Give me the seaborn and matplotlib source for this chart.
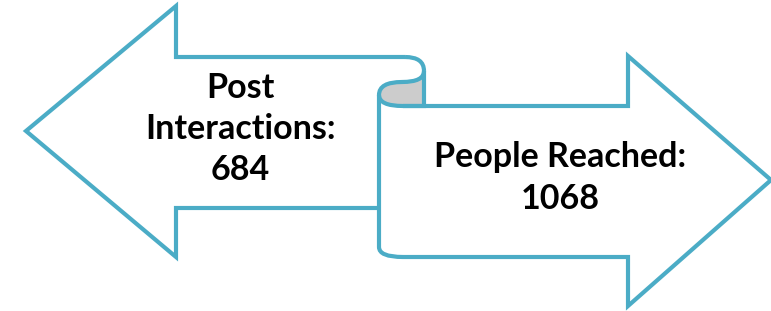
import numpy as np
import seaborn as sns
import matplotlib.pyplot as plt
from matplotlib.path import Path
from matplotlib.patches import PathPatch

# data
metrics = ["Post\nInteractions", "People Reached"]
values = [684, 1068]

edge_col = "#4BACC6"
curl_col = "#CCCCCC"
lw = 3

sns.set_theme(style="white")
plt.rcParams["font.family"] = ["Lato", "DejaVu Sans"]

fig = plt.figure(figsize=(7.71, 3.11), dpi=100)
ax = fig.add_axes([0, 0, 1, 1])
ax.set_xlim(0, 771)
ax.set_ylim(311, 0)
ax.axis("off")

M, L, C = Path.MOVETO, Path.LINETO, Path.CURVE3

# left arrow (drawn first, the scroll covers its shaft end)
left = Path([(405, 57), (176, 57), (176, 6), (26, 131), (176, 257), (176, 208), (379, 208)],
            [M, L, L, L, L, L, L])
ax.add_patch(PathPatch(left, fc="white", ec=edge_col, lw=lw, joinstyle="miter", zorder=1))

# right arrow body incl. scroll part
right_fill = Path([(403, 106), (628, 106), (628, 56), (771, 180), (628, 306), (628, 257),
                   (403, 257), (379, 257), (379, 247), (379, 95), (379, 106), (403, 106)],
                  [M, L, L, L, L, L, L, C, C, L, C, C])
ax.add_patch(PathPatch(right_fill, fc="white", ec="none", zorder=2))
right_edge = Path([(403, 106), (628, 106), (628, 56), (771, 180), (628, 306), (628, 257),
                   (403, 257), (379, 257), (379, 247), (379, 95)],
                  [M, L, L, L, L, L, L, C, C, L])
ax.add_patch(PathPatch(right_edge, fc="none", ec=edge_col, lw=lw, joinstyle="miter", zorder=4))

# curl (gray inside)
curl = Path([(402, 82), (379, 82), (379, 95), (379, 106), (403, 106), (424, 106),
             (424, 71), (424, 82), (402, 82)],
            [M, C, C, C, C, L, L, C, C])
ax.add_patch(PathPatch(curl, fc=curl_col, ec=edge_col, lw=lw, zorder=3))
top_curl = Path([(405, 57), (424, 57), (424, 71)], [M, C, C])
ax.add_patch(PathPatch(top_curl, fc="none", ec=edge_col, lw=lw, zorder=3))

# labels
ax.text(240, 129, f"{metrics[0]}:\n{values[0]}", ha="center", va="center",
        fontsize=24.5, fontweight="bold", color="black", linespacing=1.35, zorder=5)
ax.text(560, 178, f"{metrics[1]}:\n{values[1]}", ha="center", va="center",
        fontsize=24.5, fontweight="bold", color="black", linespacing=1.35, zorder=5)

fig.savefig("out.png", dpi=100)
